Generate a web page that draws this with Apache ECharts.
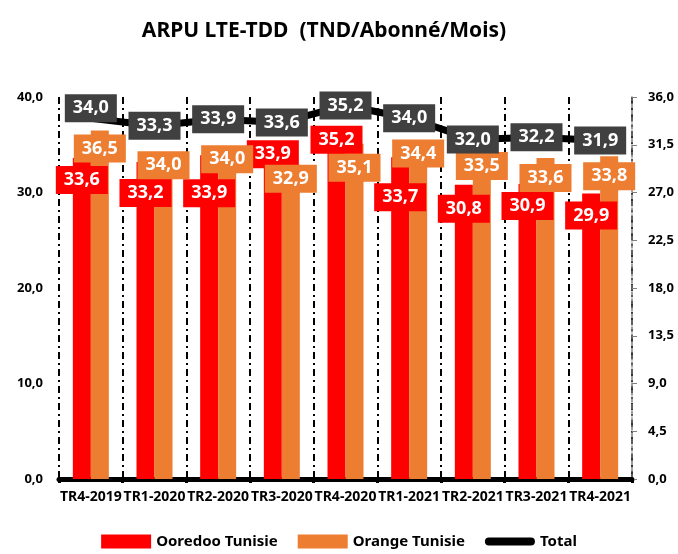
<!DOCTYPE html>
<html>
<head>
<meta charset="utf-8">
<script src="https://cdn.jsdelivr.net/npm/echarts@6/dist/echarts.min.js"></script>
<style>
  html, body { margin: 0; padding: 0; background: #fff; }
  #main { width: 678px; height: 554px; }
</style>
</head>
<body>
<div id="main"></div>
<script>
const quarters = ["TR4-2019", "TR1-2020", "TR2-2020", "TR3-2020", "TR4-2020", "TR1-2021", "TR2-2021", "TR3-2021", "TR4-2021"];
const ooredoo = [33.6, 33.2, 33.9, 33.9, 35.2, 33.7, 30.8, 30.9, 29.9];
const orange = [36.5, 34.0, 34.0, 32.9, 35.1, 34.4, 33.5, 33.6, 33.8];
const total = [34.0, 33.3, 33.9, 33.6, 35.2, 34.0, 32.0, 32.2, 31.9];

// label nudges (px below the bar top / point), as placed in the original
const ooredooLabelDy = [25, 34, 41, 2, 0, 43, 27, 25, 25];
const orangeLabelDy = [21, 14, 8, 17, 27, 6, 10, 23, 23];
const totalLabelDy = [-10, 0, 0, 0, 0, 0, 0, 0, 0];

const FONT = "Noto Sans";
const fmt = (p) => p.value.toFixed(1).replace(".", ",");

function boxLabel(bg, dy, isBar) {
  return {
    show: true,
    position: isBar ? "insideTop" : "inside",
    distance: 0,
    offset: [0, isBar ? dy - 17 : dy],
    formatter: fmt,
    color: "#fff",
    fontFamily: FONT,
    fontWeight: "bold",
    fontSize: 18,
    backgroundColor: bg,
    padding: [5, 8, 5, 8],
  };
}

const chart = echarts.init(document.getElementById("main"));

chart.setOption({
  animation: false,
  title: {
    text: "ARPU LTE-TDD  (TND/Abonné/Mois)",
    left: 319,
    top: 16,
    textAlign: "center",
    textStyle: { fontFamily: FONT, fontWeight: "bold", fontSize: 21, color: "#000" },
  },
  legend: {
    bottom: 0,
    left: "center",
    itemWidth: 50,
    itemHeight: 14,
    itemGap: 20,
    textStyle: { fontFamily: FONT, fontWeight: "bold", fontSize: 15, color: "#000" },
    data: [
      { name: "Ooredoo Tunisie", icon: "rect" },
      { name: "Orange Tunisie", icon: "rect" },
      {
        name: "Total",
        icon: "path://M0,0M50,14M4,3h42a4,4 0 0 1 0,8h-42a4,4 0 0 1 0,-8z",
        itemStyle: { color: "#000" },
      },
    ],
  },
  grid: { left: 59, right: 46, top: 97, bottom: 75 },
  xAxis: {
    type: "category",
    data: quarters,
    axisLine: { lineStyle: { color: "#000", width: 5 } },
    axisTick: { show: true, length: 4, interval: 0, lineStyle: { color: "#000", width: 3 } },
    axisLabel: { interval: 0, margin: 11, color: "#000", fontFamily: FONT, fontWeight: "bold", fontSize: 14 },
    splitLine: {
      show: true,
      interval: 0,
      lineStyle: { color: "#000", width: 2, type: [7, 4, 2, 4] },
    },
  },
  yAxis: [
    {
      type: "value",
      min: 0,
      max: 40,
      interval: 10,
      axisLine: { show: false },
      axisTick: { show: false },
      splitLine: { show: false },
      axisLabel: {
        margin: 16,
        color: "#000",
        fontFamily: FONT,
        fontWeight: "bold",
        fontSize: 13,
        formatter: (v) => v.toFixed(1).replace(".", ","),
      },
    },
    {
      type: "value",
      min: 0,
      max: 36,
      interval: 4.5,
      position: "right",
      axisLine: { show: true, lineStyle: { color: "#7f7f7f", width: 1.5, type: [5, 2] } },
      axisTick: { show: true, length: 5, lineStyle: { color: "#7f7f7f" } },
      splitLine: { show: false },
      axisLabel: {
        margin: 16,
        color: "#000",
        fontFamily: FONT,
        fontWeight: "bold",
        fontSize: 13,
        formatter: (v) => v.toFixed(1).replace(".", ","),
      },
    },
  ],
  series: [
    {
      name: "Ooredoo Tunisie",
      type: "bar",
      barWidth: 18,
      barGap: "0%",
      itemStyle: { color: "#ff0000" },
      data: ooredoo.map((v, i) => ({ value: v, label: boxLabel("#ff0000", ooredooLabelDy[i], true) })),
    },
    {
      name: "Orange Tunisie",
      type: "bar",
      barWidth: 18,
      barGap: "0%",
      itemStyle: { color: "#ed7d31" },
      data: orange.map((v, i) => ({ value: v, label: boxLabel("#ed7d31", orangeLabelDy[i], true) })),
    },
    {
      name: "Total",
      type: "line",
      yAxisIndex: 1,
      symbol: "circle",
      symbolSize: 1,
      itemStyle: { color: "#000" },
      lineStyle: { color: "#000", width: 7, cap: "round", join: "round" },
      data: total.map((v, i) => ({ value: v, label: boxLabel("#404040", totalLabelDy[i], false) })),
      z: 4,
    },
  ],
});
</script>
</body>
</html>
